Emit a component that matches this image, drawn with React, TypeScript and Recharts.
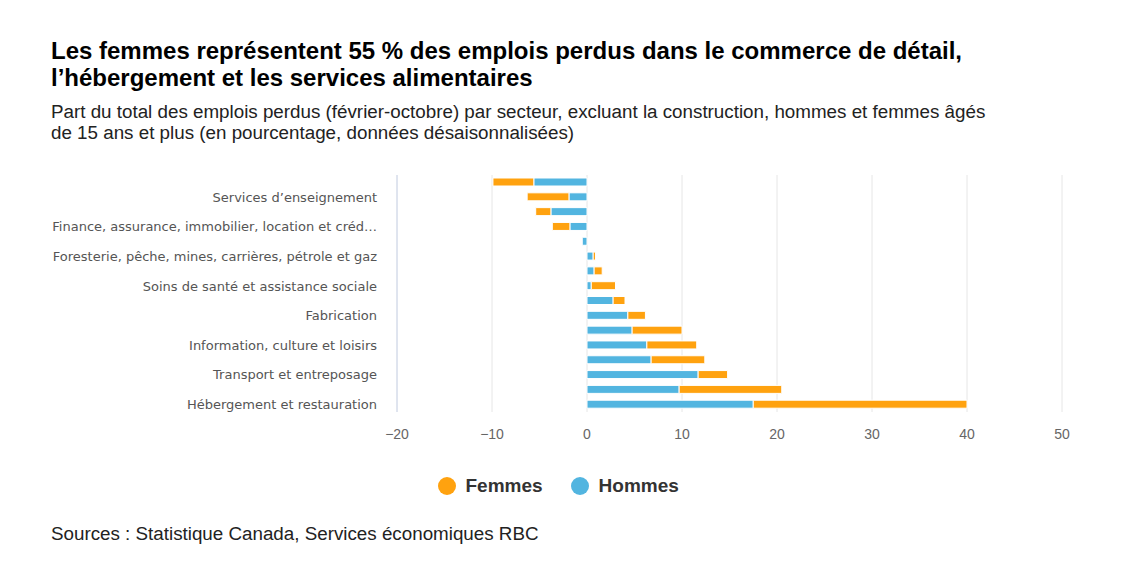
import React from "react";
import { BarChart, Bar, XAxis, YAxis, CartesianGrid } from "recharts";

const categories = [
  "Services professionnels, scientifiques et techniques",
  "Services d’enseignement",
  "Administrations publiques",
  "Finance, assurance, immobilier, location et crédit-bail",
  "Services publics",
  "Foresterie, pêche, mines, carrières, pétrole et gaz",
  "Agriculture",
  "Soins de santé et assistance sociale",
  "Commerce de gros",
  "Fabrication",
  "Autres services",
  "Information, culture et loisirs",
  "Services aux entreprises, services relatifs aux bâtiments et autres services de soutien",
  "Transport et entreposage",
  "Commerce de détail",
  "Hébergement et restauration",
];
const hommes = [-5.6, -1.9, -3.8, -1.8, -0.5, 0.65, 0.75, 0.45, 2.75, 4.3, 4.75, 6.3, 6.75, 11.7, 9.7, 17.5];
const femmes = [-4.3, -4.4, -1.6, -1.85, 0, 0.25, 0.85, 2.55, 1.25, 1.85, 5.25, 5.25, 5.65, 3.1, 10.8, 22.5];
const xTicks = [-20, -10, 0, 10, 20, 30, 40, 50];

const title = [
  "Les femmes représentent 55 % des emplois perdus dans le commerce de détail,",
  "l’hébergement et les services alimentaires",
];
const subtitle = [
  "Part du total des emplois perdus (février-octobre) par secteur, excluant la construction, hommes et femmes âgés",
  "de 15 ans et plus (en pourcentage, données désaisonnalisées)",
];
const source = "Sources : Statistique Canada, Services économiques RBC";

const ORANGE = "#ffa20f";
const BLUE = "#52b5e0";

const data = categories.map((name, i) => ({ name, Hommes: hommes[i], Femmes: femmes[i] }));

const truncate = (s: string) => (s.length > 52 ? s.slice(0, 48) + "…" : s);

const YTick = (props: any) => {
  const { y, payload, index } = props;
  if (index % 2 !== 1) return <g />;
  return (
    <text
      x={377}
      y={y}
      dy={4.5}
      textAnchor="end"
      fill="#555"
      fontSize={13}
      fontFamily="'DejaVu Sans', Verdana, sans-serif"
    >
      {truncate(payload.value)}
    </text>
  );
};

export default function App() {
  const font = "'Liberation Sans', Arial, sans-serif";
  return (
    <div style={{ position: "absolute", left: 0, top: 0, width: 1143, height: 579, background: "#fff", fontFamily: font }}>
      <div style={{ position: "absolute", left: 51, top: 36.5, fontSize: 24, fontWeight: "bold", lineHeight: "27px", color: "#000", whiteSpace: "nowrap" }}>
        {title.map((t, i) => (
          <div key={i}>{t}</div>
        ))}
      </div>
      <div style={{ position: "absolute", left: 51, top: 100.5, fontSize: 18.8, lineHeight: "21px", color: "#222", whiteSpace: "nowrap" }}>
        {subtitle.map((t, i) => (
          <div key={i}>{t}</div>
        ))}
      </div>
      <div style={{ position: "absolute", left: 0, top: 0 }}>
        <BarChart
          width={1143}
          height={460}
          data={data}
          layout="vertical"
          stackOffset="sign"
          margin={{ top: 175, right: 81, bottom: 18, left: 50 }}
          barSize={8}
        >
          <CartesianGrid horizontal={false} vertical={true} stroke="#e6e6e6" />
          <XAxis
            type="number"
            domain={[-20, 50]}
            ticks={xTicks}
            axisLine={false}
            tickLine={false}
            tickMargin={11}
            height={30}
            tick={{ fill: "#666", fontSize: 14, fontFamily: font }}
            tickFormatter={(v: number) => String(v).replace("-", "−")}
          />
          <YAxis
            type="category"
            dataKey="name"
            width={347}
            interval={0}
            tickLine={false}
            axisLine={{ stroke: "#ccd6eb" }}
            tick={<YTick />}
          />
          <Bar dataKey="Hommes" stackId="a" fill={BLUE} stroke="#fff" strokeWidth={1} isAnimationActive={false} />
          <Bar dataKey="Femmes" stackId="a" fill={ORANGE} stroke="#fff" strokeWidth={1} isAnimationActive={false} />
        </BarChart>
      </div>
      <div style={{ position: "absolute", left: 437.5, top: 474, height: 24, display: "flex", alignItems: "center", fontSize: 19, fontWeight: "bold", color: "#333" }}>
        <span style={{ width: 18, height: 18, borderRadius: 9, background: ORANGE, display: "inline-block" }} />
        <span style={{ marginLeft: 10 }}>Femmes</span>
        <span style={{ width: 18, height: 18, borderRadius: 9, background: BLUE, display: "inline-block", marginLeft: 28 }} />
        <span style={{ marginLeft: 10 }}>Hommes</span>
      </div>
      <div style={{ position: "absolute", left: 51, top: 522.5, fontSize: 18.8, lineHeight: "22px", color: "#222", whiteSpace: "nowrap" }}>
        {source}
      </div>
    </div>
  );
}
